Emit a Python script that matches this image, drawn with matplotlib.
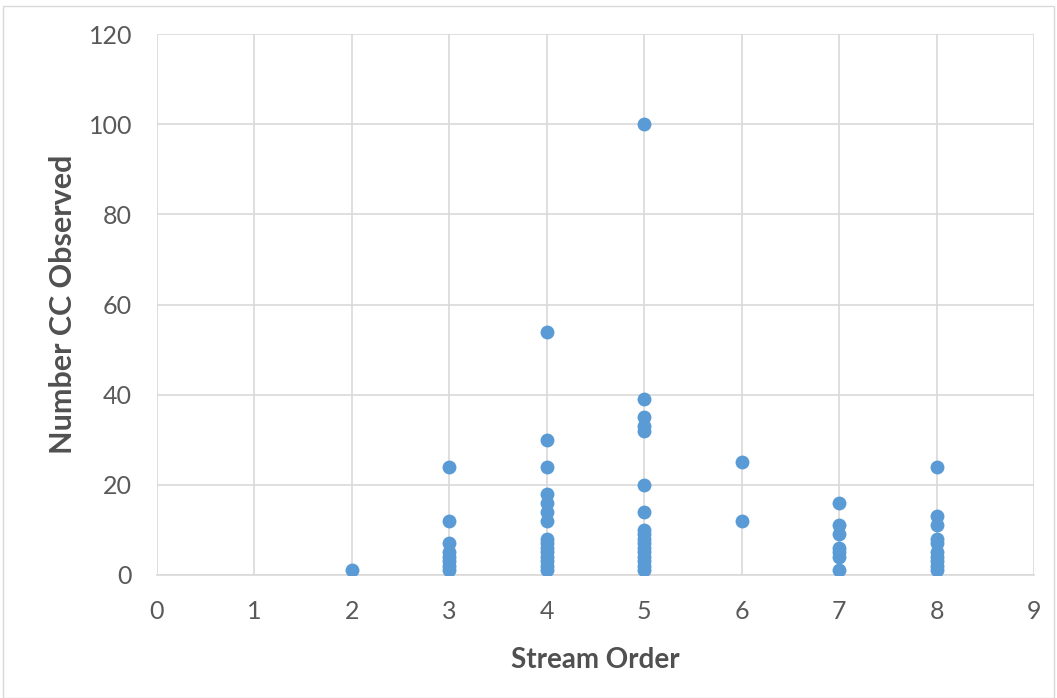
import matplotlib
matplotlib.use("Agg")
import matplotlib.pyplot as plt
from matplotlib.patches import Rectangle

# Data
order_2 = [1]
order_3 = [24, 12, 7, 5, 4, 3, 2, 1]
order_4 = [54, 30, 24, 18, 16, 14, 12, 8, 7, 6, 5, 4, 3, 2, 1]
order_5 = [100, 39, 35, 33, 32, 20, 14, 10, 9, 8, 7, 6, 5, 4, 3, 2, 1]
order_6 = [25, 12]
order_7 = [16, 11, 9, 6, 5, 4, 1]
order_8 = [24, 13, 11, 8, 7, 5, 4, 3, 2, 1]

groups = {2: order_2, 3: order_3, 4: order_4, 5: order_5,
          6: order_6, 7: order_7, 8: order_8}
xs, ys = [], []
for k, vals in groups.items():
    xs += [k] * len(vals)
    ys += vals

x_ticks = list(range(0, 10))
y_ticks = list(range(0, 121, 20))

plt.rcParams['font.family'] = ['Lato', 'DejaVu Sans']

fig = plt.figure(figsize=(10.57, 6.98), dpi=100)
ax = fig.add_axes([157/1057, 1 - 575/698, (1034-157)/1057, (575-34)/698])

ax.scatter(xs, ys, s=100, color='#5B9BD5', zorder=3, linewidths=0)

ax.set_xlim(0, 9)
ax.set_ylim(0, 120)
ax.set_xticks(x_ticks)
ax.set_yticks(y_ticks)
ax.grid(True, color='#D9D9D9', linewidth=1.2, zorder=0)
for s in ['top', 'right', 'left']:
    ax.spines[s].set_visible(False)
ax.spines['bottom'].set_color('#D9D9D9')
ax.spines['bottom'].set_linewidth(1.2)
ax.tick_params(axis='both', length=0, labelsize=18, labelcolor='#595959')
ax.tick_params(axis='x', pad=18)
ax.tick_params(axis='y', pad=18)

ax.set_xlabel('Stream Order', fontsize=20, fontweight='bold', color='#505050', labelpad=17)
ax.set_ylabel('Number CC Observed', fontsize=22, fontweight='bold', color='#505050', labelpad=8)

fig.patches.append(Rectangle((3/1057, 0.5/698), 1051/1057, 692/698, transform=fig.transFigure,
                             fill=False, edgecolor='#D9D9D9', linewidth=1))

fig.savefig('out.png', dpi=100)
